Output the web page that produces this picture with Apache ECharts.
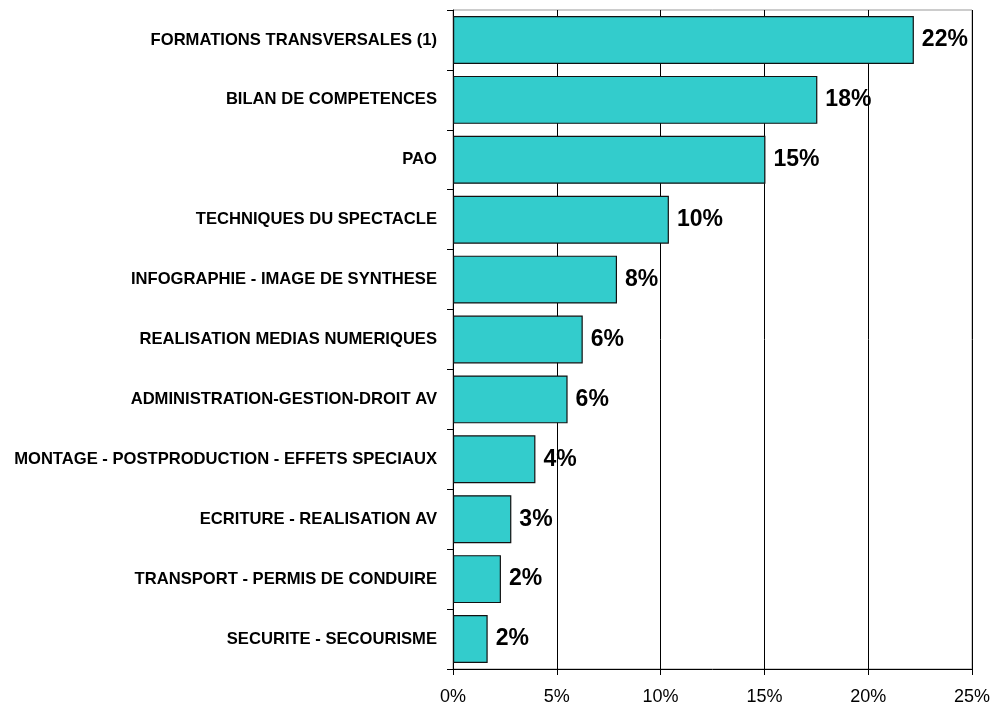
<!DOCTYPE html>
<html>
<head>
<meta charset="utf-8">
<script src="https://cdn.jsdelivr.net/npm/echarts@6/dist/echarts.min.js"></script>
<style>
  html, body { margin: 0; padding: 0; background: #fff; }
  #main { width: 996px; height: 705px; }
</style>
</head>
<body>
<div id="main"></div>
<script>
// categories, top to bottom
var categories = [
  "FORMATIONS TRANSVERSALES (1)",
  "BILAN DE COMPETENCES",
  "PAO",
  "TECHNIQUES DU SPECTACLE",
  "INFOGRAPHIE - IMAGE DE SYNTHESE",
  "REALISATION MEDIAS NUMERIQUES",
  "ADMINISTRATION-GESTION-DROIT AV",
  "MONTAGE - POSTPRODUCTION - EFFETS SPECIAUX",
  "ECRITURE - REALISATION AV",
  "TRANSPORT - PERMIS DE CONDUIRE",
  "SECURITE - SECOURISME"
];
// share in %
var shares = [22.2, 17.55, 15.05, 10.4, 7.9, 6.25, 5.52, 3.97, 2.81, 2.31, 1.67];
// x tick labels
var xTicks = [0, 5, 10, 15, 20, 25];

var font = "'Liberation Sans', Arial, sans-serif";
var chart = echarts.init(document.getElementById("main"));

chart.setOption({
  animation: false,
  backgroundColor: "#fff",
  grid: {
    left: 453,
    right: 24,
    top: 10,
    bottom: 36,
    show: true,
    borderColor: "#999",
    borderWidth: 1,
    outerBoundsMode: "none"
  },
  xAxis: {
    type: "value",
    min: xTicks[0],
    max: xTicks[xTicks.length - 1],
    interval: 5,
    axisLine: { show: true, lineStyle: { color: "#000", width: 1 } },
    axisTick: { show: true, length: 6, lineStyle: { color: "#000" } },
    axisLabel: {
      margin: 19,
      color: "#000",
      fontFamily: font,
      fontSize: 18,
      formatter: function (v) { return v + "%"; }
    },
    splitLine: { show: true, lineStyle: { color: "#000", width: 1 } }
  },
  yAxis: {
    type: "category",
    inverse: true,
    data: categories,
    axisLine: { show: true, lineStyle: { color: "#000", width: 1 } },
    axisTick: { show: true, length: 6, lineStyle: { color: "#000" } },
    axisLabel: {
      margin: 16,
      color: "#000",
      fontFamily: font,
      fontSize: 16.6,
      fontWeight: "bold"
    }
  },
  series: [
    {
      type: "bar",
      data: shares,
      barCategoryGap: "20%",
      itemStyle: {
        color: "#33CCCC",
        borderColor: "#111",
        borderWidth: 1.2
      },
      label: {
        show: true,
        position: "right",
        distance: 8,
        color: "#000",
        fontFamily: font,
        fontSize: 23,
        fontWeight: "bold",
        formatter: function (p) { return Math.round(p.value) + "%"; }
      }
    }
  ]
});
</script>
</body>
</html>
